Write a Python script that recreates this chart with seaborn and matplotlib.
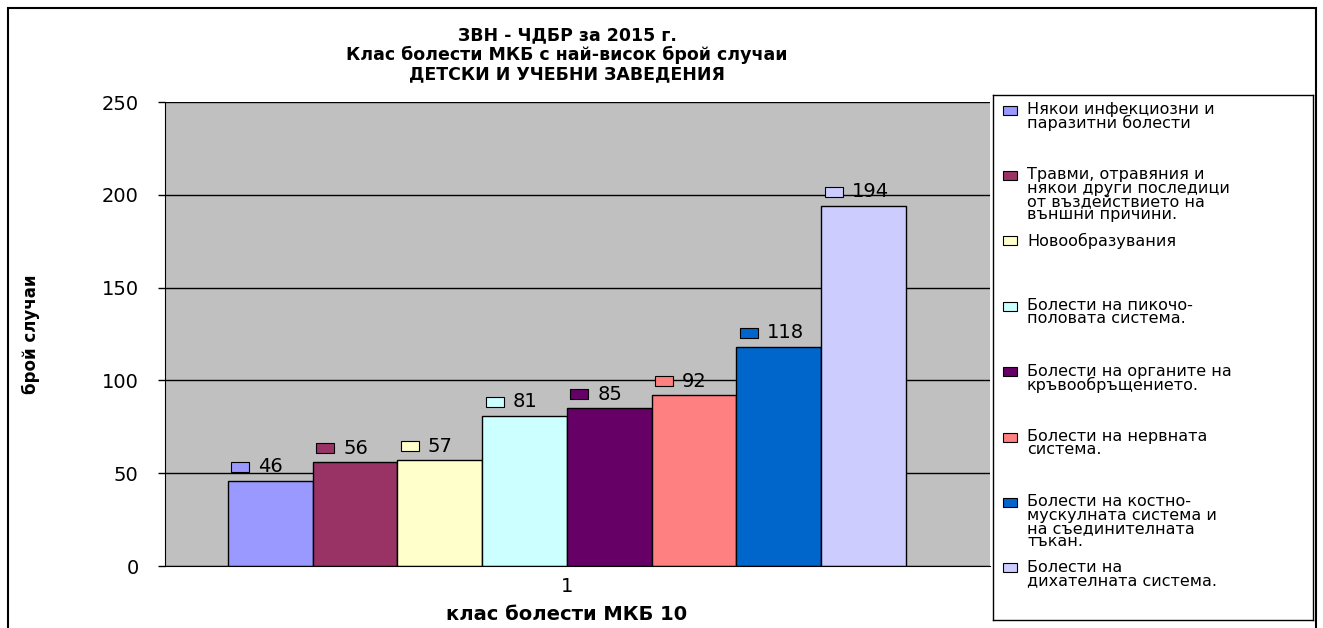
import pandas as pd
import matplotlib
matplotlib.use("Agg")
import matplotlib.pyplot as plt
import seaborn as sns
from matplotlib.patches import Rectangle
from matplotlib.markers import MarkerStyle
from matplotlib.transforms import Affine2D, offset_copy

plt.rcParams['font.family'] = ['DejaVu Sans']

# data
categories = [
    "Някои инфекциозни и\nпаразитни болести",
    "Травми, отравяния и\nнякои други последици\nот въздействието на\nвъншни причини.",
    "Новообразувания",
    "Болести на пикочо-\nполовата система.",
    "Болести на органите на\nкръвообръщението.",
    "Болести на нервната\nсистема.",
    "Болести на костно-\nмускулната система и\nна съединителната\nтъкан.",
    "Болести на\nдихателната система.",
]
values = [46, 56, 57, 81, 85, 92, 118, 194]
colors = ["#9999FF", "#993366", "#FFFFCC", "#CCFFFF",
          "#660066", "#FF8080", "#0066CC", "#CCCCFF"]
x_label_cat = ["1"] * len(values)

title = "ЗВН - ЧДБР за 2015 г.\nКлас болести МКБ с най-висок брой случаи\nДЕТСКИ И УЧЕБНИ ЗАВЕДЕНИЯ"
xlabel = "клас болести МКБ 10"
ylabel = "брой случаи"
yticks = [0, 50, 100, 150, 200, 250]

df = pd.DataFrame({"klas": x_label_cat, "cat": categories, "value": values})

W, H = 1323, 628
fig = plt.figure(figsize=(W / 100, H / 100), dpi=100)
ax = fig.add_axes([165 / W, (H - 566) / H, 825 / W, 464 / H])
ax.set_facecolor("#C0C0C0")

sns.barplot(data=df, x="klas", y="value", hue="cat", hue_order=categories,
            palette=colors, saturation=1, edgecolor="black", linewidth=1,
            width=0.8, legend=False, ax=ax)

ax.set_xlim(-0.4743, 0.4991)
ax.set_ylim(0, 250)
ax.set_yticks(yticks)
ax.yaxis.grid(True, color="black", linewidth=1)
ax.set_axisbelow(True)
for s in ["top", "right"]:
    ax.spines[s].set_visible(False)
ax.spines["left"].set_color("black")
ax.spines["bottom"].set_color("black")
ax.tick_params(axis="y", length=5, width=1, pad=14, labelsize=14)
ax.tick_params(axis="x", length=0, pad=8, labelsize=14)

ax.set_xlabel(xlabel, fontsize=14, fontweight="bold")
ax.xaxis.set_label_coords(0.487, -0.085)
ax.set_ylabel(ylabel, fontsize=12, fontweight="bold")
ax.yaxis.set_label_coords(-(165 - 40) / 825, 0.5)

# data labels: small colour key + value above each bar
bars = sorted([p for p in ax.patches if p.get_height() > 0], key=lambda p: p.get_x())
key_marker = MarkerStyle("s", transform=Affine2D().scale(2, 1))
key_tr = offset_copy(ax.transData, fig=fig, x=-30, y=14, units="dots")
for p, v, c in zip(bars, values, colors):
    cx = p.get_x() + p.get_width() / 2
    top = p.get_height()
    ax.plot(cx, top, marker=key_marker, ms=6.5, mfc=c, mec="black",
            mew=0.8, transform=key_tr, clip_on=False)
    ax.annotate(str(v), (cx, top), xytext=(-12, 14), textcoords="offset pixels",
                ha="left", va="center", fontsize=14)

# title
fig.text(567 / W, 1 - 55 / H, title, ha="center", va="center",
         fontsize=12.5, fontweight="bold", linespacing=1.1)

# legend box
lax = fig.add_axes([993 / W, (H - 620) / H, 320 / W, 525 / H])
lax.set_xlim(0, 320)
lax.set_ylim(525, 0)
lax.set_xticks([])
lax.set_yticks([])
for s in lax.spines.values():
    s.set_color("black")
    s.set_linewidth(1)
for i, (lab, c) in enumerate(zip(categories, colors)):
    y = 15 + 65.4 * i
    lax.add_patch(Rectangle((10, y - 4.5), 14, 9, facecolor=c,
                            edgecolor="black", linewidth=0.8))
    lax.text(34, y - 8, lab, va="top", ha="left", fontsize=11.5, linespacing=0.85)

# outer chart frame
fig.add_artist(Rectangle((8 / W, -0.05), (1316 - 8) / W, 1.05 - 8 / H,
                         transform=fig.transFigure, fill=False,
                         edgecolor="black", linewidth=1.5))

fig.savefig("out.png", dpi=100)
